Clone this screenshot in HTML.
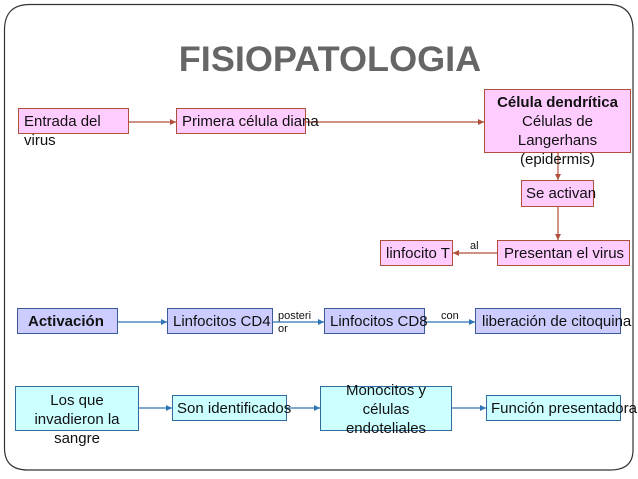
<!DOCTYPE html>
<html><head><meta charset="utf-8"><style>
body{margin:0;width:638px;height:479px;background:#fff;position:relative;overflow:hidden;font-family:"Liberation Sans",sans-serif;}
.b{position:absolute;box-sizing:border-box;font-size:15px;color:#111;line-height:19px;white-space:nowrap;}
.p{background:#ffccff;border:1px solid #b0503a;}
.l{background:#ccccff;border:1px solid #3a5a9a;}
.c{background:#ccffff;border:1px solid #2e6d9e;}
.t{position:absolute;font-size:15px;line-height:19px;white-space:nowrap;color:#111;}
.s{position:absolute;font-size:11px;line-height:13px;white-space:nowrap;color:#111;}
</style></head><body>
<svg width="638" height="479" style="position:absolute;left:0;top:0">
<defs>
<marker id="ar" markerWidth="6" markerHeight="6" refX="5" refY="3" orient="auto"><path d="M0,0.5 L5,3 L0,5.5z" fill="#b0503a"/></marker>
<marker id="ab" markerWidth="6" markerHeight="6" refX="5" refY="3" orient="auto"><path d="M0,0.5 L5,3 L0,5.5z" fill="#2e75b6"/></marker>
</defs>
<path d="M30,4.5 H608 Q633,4.5 633,30 V450 Q633,470 610,470 H28 Q4.5,470 4.5,448 V30 Q4.5,4.5 30,4.5Z" fill="none" stroke="#333" stroke-width="1.2"/>
<g stroke="#b0503a" stroke-width="1.2" fill="none">
<line x1="129" y1="122" x2="176" y2="122" marker-end="url(#ar)"/>
<line x1="306" y1="122" x2="484" y2="122" marker-end="url(#ar)"/>
<line x1="558" y1="153" x2="558" y2="180" marker-end="url(#ar)"/>
<line x1="558" y1="207" x2="558" y2="240" marker-end="url(#ar)"/>
<line x1="497" y1="253" x2="453" y2="253" marker-end="url(#ar)"/>
</g>
<g stroke="#2e75b6" stroke-width="1.2" fill="none">
<line x1="118" y1="322" x2="167" y2="322" marker-end="url(#ab)"/>
<line x1="273" y1="322" x2="324" y2="322" marker-end="url(#ab)"/>
<line x1="425" y1="322" x2="475" y2="322" marker-end="url(#ab)"/>
<line x1="139" y1="408" x2="172" y2="408" marker-end="url(#ab)"/>
<line x1="287" y1="408" x2="320" y2="408" marker-end="url(#ab)"/>
<line x1="452" y1="408" x2="486" y2="408" marker-end="url(#ab)"/>
</g>
</svg>
<div style="position:absolute;left:130px;top:40px;width:400px;text-align:center;font-size:35px;font-weight:bold;color:#666;line-height:40px;transform:scaleX(1.03);">FISIOPATOLOGIA</div>

<div class="b p" style="left:18px;top:108px;width:111px;height:26px;"></div>
<div class="t" style="left:24px;top:112px;">Entrada del<br>virus</div>
<div class="b p" style="left:176px;top:108px;width:130px;height:26px;"></div>
<div class="t" style="left:182px;top:112px;">Primera célula diana</div>
<div class="b p" style="left:484px;top:89px;width:147px;height:64px;"></div>
<div class="t" style="left:484px;top:93px;width:147px;text-align:center;"><b>Célula dendrítica</b><br>Células de<br>Langerhans<br>(epidermis)</div>
<div class="b p" style="left:521px;top:180px;width:73px;height:27px;"></div>
<div class="t" style="left:526px;top:184px;">Se activan</div>
<div class="b p" style="left:497px;top:240px;width:133px;height:26px;"></div>
<div class="t" style="left:504px;top:244px;">Presentan el virus</div>
<div class="b p" style="left:380px;top:240px;width:73px;height:26px;"></div>
<div class="t" style="left:386px;top:244px;">linfocito T</div>
<div class="s" style="left:470px;top:240px;">al</div>

<div class="b l" style="left:17px;top:308px;width:101px;height:26px;"></div>
<div class="t" style="left:28px;top:312px;font-weight:bold;">Activación</div>
<div class="b l" style="left:167px;top:308px;width:106px;height:26px;"></div>
<div class="t" style="left:173px;top:312px;">Linfocitos CD4</div>
<div class="s" style="left:278px;top:310px;">posteri<br>or</div>
<div class="b l" style="left:324px;top:308px;width:101px;height:26px;"></div>
<div class="t" style="left:330px;top:312px;">Linfocitos CD8</div>
<div class="s" style="left:441px;top:310px;">con</div>
<div class="b l" style="left:475px;top:308px;width:146px;height:26px;"></div>
<div class="t" style="left:482px;top:312px;">liberación de citoquina</div>

<div class="b c" style="left:15px;top:386px;width:124px;height:45px;"></div>
<div class="t" style="left:15px;top:391px;width:124px;text-align:center;">Los que<br>invadieron la<br>sangre</div>
<div class="b c" style="left:172px;top:395px;width:115px;height:26px;"></div>
<div class="t" style="left:177px;top:399px;">Son identificados</div>
<div class="b c" style="left:320px;top:386px;width:132px;height:45px;"></div>
<div class="t" style="left:320px;top:381px;width:132px;text-align:center;">Monocitos y<br>células<br>endoteliales</div>
<div class="b c" style="left:486px;top:395px;width:135px;height:26px;"></div>
<div class="t" style="left:491px;top:399px;">Función presentadora</div>
</body></html>
